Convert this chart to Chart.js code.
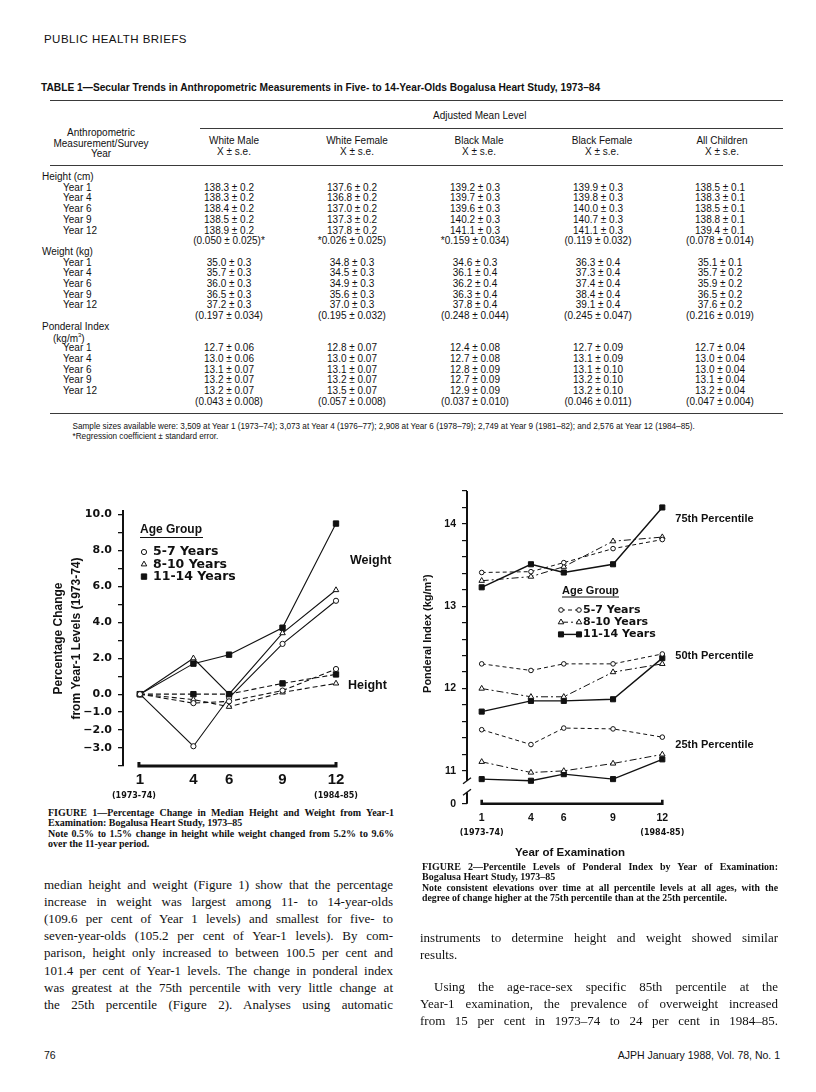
<!DOCTYPE html>
<html>
<head>
<meta charset="utf-8">
<script src="https://cdn.jsdelivr.net/npm/chart.js@4.4.1/dist/chart.umd.min.js"></script>
<style>
  html, body { margin: 0; padding: 0; background: #fff; }
  #page { position: relative; width: 816px; height: 1092px; overflow: hidden; color: #111; }
  .t { position: absolute; white-space: nowrap; }
  .rule { position: absolute; height: 0; }
  canvas { position: absolute; }
</style>
</head>
<body>
<div id="page">
  <canvas id="fig1" width="380" height="310" style="left:40px;top:495px;width:380px;height:310px"></canvas>
  <canvas id="fig2" width="380" height="385" style="left:415px;top:478px;width:380px;height:385px"></canvas>
</div>
<script>
// ---- figure 1: percentage change from year-1 levels ----
const years = [1, 4, 6, 9, 12];
const weight5to7 = [0, -2.9, -0.2, 2.8, 5.2];
const weight8to10 = [0, 2.0, 0.0, 3.4, 5.8];
const weight11to14 = [0, 1.7, 2.2, 3.7, 9.5];
const height5to7 = [0, -0.5, -0.4, 0.2, 1.4];
const height8to10 = [0, -0.3, -0.7, 0.1, 0.6];
const height11to14 = [0, 0.0, 0.0, 0.6, 1.1];
const fig1YTicks = [-4, -3, -2, -1, 0, 1, 2, 3, 4, 5, 6, 7, 8, 9, 10];
const fig1YLabels = ['', '\u22123.0', '\u22122.0', '\u22121.0', '0.0', '', '2.0', '', '4.0', '', '6.0', '', '8.0', '', '10.0'];

// ---- figure 2: ponderal index percentiles ----
const pi75_5to7 = [13.41, 13.42, 13.53, 13.70, 13.81];
const pi75_8to10 = [13.31, 13.36, 13.48, 13.79, 13.84];
const pi75_11to14 = [13.23, 13.51, 13.41, 13.51, 14.20];
const pi50_5to7 = [12.30, 12.22, 12.30, 12.30, 12.42];
const pi50_8to10 = [12.00, 11.90, 11.90, 12.20, 12.30];
const pi50_11to14 = [11.72, 11.85, 11.85, 11.87, 12.37];
const pi25_5to7 = [11.50, 11.32, 11.52, 11.51, 11.41];
const pi25_8to10 = [11.11, 10.98, 11.00, 11.09, 11.20];
const pi25_11to14 = [10.90, 10.88, 10.96, 10.90, 11.14];
const fig2YTicks = [10.6, 11.0, 11.2, 11.4, 11.6, 11.8, 12.0, 12.2, 12.4, 12.6, 12.8, 13.0, 13.2, 13.4, 13.6, 13.8, 14.0, 14.2, 14.4];
const fig2YLabels = ['0', '11', '', '', '', '', '12', '', '', '', '', '13', '', '', '', '', '14', '', ''];

const ageGroups = ['5-7 Years', '8-10 Years', '11-14 Years'];
const yearSpans = ['(1973-74)', '(1984-85)'];

// ---- table 1 ----
const tableGroups = ['White Male', 'White Female', 'Black Male', 'Black Female', 'All Children'];
const surveyYears = ['Year 1', 'Year 4', 'Year 6', 'Year 9', 'Year 12'];
const heightCm = [
  ['138.3 ± 0.2', '137.6 ± 0.2', '139.2 ± 0.3', '139.9 ± 0.3', '138.5 ± 0.1'],
  ['138.3 ± 0.2', '136.8 ± 0.2', '139.7 ± 0.3', '139.8 ± 0.3', '138.3 ± 0.1'],
  ['138.4 ± 0.2', '137.0 ± 0.2', '139.6 ± 0.3', '140.0 ± 0.3', '138.5 ± 0.1'],
  ['138.5 ± 0.2', '137.3 ± 0.2', '140.2 ± 0.3', '140.7 ± 0.3', '138.8 ± 0.1'],
  ['138.9 ± 0.2', '137.8 ± 0.2', '141.1 ± 0.3', '141.1 ± 0.3', '139.4 ± 0.1']
];
const heightCoef = ['(0.050 ± 0.025)*', '*0.026 ± 0.025)', '*0.159 ± 0.034)', '(0.119 ± 0.032)', '(0.078 ± 0.014)'];
const weightKg = [
  ['35.0 ± 0.3', '34.8 ± 0.3', '34.6 ± 0.3', '36.3 ± 0.4', '35.1 ± 0.1'],
  ['35.7 ± 0.3', '34.5 ± 0.3', '36.1 ± 0.4', '37.3 ± 0.4', '35.7 ± 0.2'],
  ['36.0 ± 0.3', '34.9 ± 0.3', '36.2 ± 0.4', '37.4 ± 0.4', '35.9 ± 0.2'],
  ['36.5 ± 0.3', '35.6 ± 0.3', '36.3 ± 0.4', '38.4 ± 0.4', '36.5 ± 0.2'],
  ['37.2 ± 0.3', '37.0 ± 0.3', '37.8 ± 0.4', '39.1 ± 0.4', '37.6 ± 0.2']
];
const weightCoef = ['(0.197 ± 0.034)', '(0.195 ± 0.032)', '(0.248 ± 0.044)', '(0.245 ± 0.047)', '(0.216 ± 0.019)'];
const ponderal = [
  ['12.7 ± 0.06', '12.8 ± 0.07', '12.4 ± 0.08', '12.7 ± 0.09', '12.7 ± 0.04'],
  ['13.0 ± 0.06', '13.0 ± 0.07', '12.7 ± 0.08', '13.1 ± 0.09', '13.0 ± 0.04'],
  ['13.1 ± 0.07', '13.1 ± 0.07', '12.8 ± 0.09', '13.1 ± 0.10', '13.0 ± 0.04'],
  ['13.2 ± 0.07', '13.2 ± 0.07', '12.7 ± 0.09', '13.2 ± 0.10', '13.1 ± 0.04'],
  ['13.2 ± 0.07', '13.5 ± 0.07', '12.9 ± 0.09', '13.2 ± 0.10', '13.2 ± 0.04']
];
const ponderalCoef = ['(0.043 ± 0.008)', '(0.057 ± 0.008)', '(0.037 ± 0.010)', '(0.046 ± 0.011)', '(0.047 ± 0.004)'];

const INK = '#111';
const page = document.getElementById('page');

// place a line of text, y is the vertical centre
function put(html, x, y, font, align, extra) {
  const d = document.createElement('div');
  d.className = 't';
  d.innerHTML = html;
  d.style.font = font;
  d.style.lineHeight = '1';
  d.style.left = x + 'px';
  d.style.top = y + 'px';
  const tx = align === 'c' ? '-50%' : align === 'r' ? '-100%' : '0';
  d.style.transform = 'translate(' + tx + ',-50%)';
  if (extra) d.style.cssText += extra;
  page.appendChild(d);
  return d;
}
function jline(html, x, y, w, font) {
  return put(html, x, y, font, 'l', 'width:' + w + 'px;white-space:normal;text-align:justify;text-align-last:justify;');
}
function rule(x1, x2, y, w) {
  const d = document.createElement('div');
  d.className = 'rule';
  d.style.cssText = 'left:' + x1 + 'px;width:' + (x2 - x1) + 'px;top:' + y + 'px;border-top:' + w + 'px solid #3a3a3a;';
  page.appendChild(d);
}

// ---- page header and table ----
const sans = '"Liberation Sans", Arial, sans-serif';
const serif = '"Liberation Serif", "Times New Roman", serif';
put('PUBLIC HEALTH BRIEFS', 44, 40, '11.5px ' + sans, 'l', 'letter-spacing:0.45px;');
put('TABLE 1—Secular Trends in Anthropometric Measurements in Five- to 14-Year-Olds Bogalusa Heart Study, 1973–84',
    41, 87.5, 'bold 10.2px ' + sans, 'l');
rule(50, 783, 100, 1.5);
put('Adjusted Mean Level', 433, 115.5, '10px ' + sans, 'l');
rule(200, 783, 127.5, 1);
put('Anthropometric', 101, 132.5, '10px ' + sans, 'c');
put('Measurement/Survey', 101, 143.5, '10px ' + sans, 'c');
put('Year', 101, 154, '10px ' + sans, 'c');
const headCentres = [234, 357, 479, 602, 722];
const cellCentres = [229, 352, 475, 598, 720];
tableGroups.forEach((g, i) => {
  put(g, headCentres[i], 140.5, '10px ' + sans, 'c');
  put('X ± s.e.', headCentres[i], 151.5, '10px ' + sans, 'c');
});
rule(50, 783, 165, 1.5);

const tableRows = [];
tableRows.push({ label: 'Height (cm)', x: 42 });
heightCm.forEach((r, i) => tableRows.push({ label: surveyYears[i], x: 63, cells: r }));
tableRows.push({ label: '', cells: heightCoef });
tableRows.push({ label: 'Weight (kg)', x: 42 });
weightKg.forEach((r, i) => tableRows.push({ label: surveyYears[i], x: 63, cells: r }));
tableRows.push({ label: '', cells: weightCoef });
tableRows.push({ label: 'Ponderal Index', x: 42 });
tableRows.push({ label: '(kg/m<sup style="font-size:6px">3</sup>)', x: 53 });
ponderal.forEach((r, i) => tableRows.push({ label: surveyYears[i], x: 63, cells: r }));
tableRows.push({ label: '', cells: ponderalCoef });
tableRows.forEach((row, n) => {
  const y = 177 + n * 10.7;
  if (row.label) put(row.label, row.x, y, '10px ' + sans, 'l');
  if (row.cells) row.cells.forEach((c, i) => put(c, cellCentres[i], y, '10px ' + sans, 'c'));
});
rule(50, 783, 413, 1.5);
put('Sample sizes available were: 3,509 at Year 1 (1973–74); 3,073 at Year 4 (1976–77); 2,908 at Year 6 (1978–79); 2,749 at Year 9 (1981–82); and 2,576 at Year 12 (1984–85).',
    72.5, 426.5, '8.2px ' + sans, 'l');
put('*Regression coefficient ± standard error.', 72.5, 436.5, '8.2px ' + sans, 'l');

// ---- captions and body text ----
const capFont = 'bold 10px ' + serif;
jline('FIGURE 1—Percentage Change in Median Height and Weight from Year-1', 48, 813, 346, capFont);
put('Examination: Bogalusa Heart Study, 1973–85', 48, 823, capFont, 'l');
jline('Note 0.5% to 1.5% change in height while weight changed from 5.2% to 9.6%', 48, 833.5, 346, capFont);
put('over the 11-year period.', 48, 843.5, capFont, 'l');

jline('FIGURE 2—Percentile Levels of Ponderal Index by Year of Examination:', 422, 867, 356, capFont);
put('Bogalusa Heart Study, 1973–85', 422, 877, capFont, 'l');
jline('Note consistent elevations over time at all percentile levels at all ages, with the', 422, 887.5, 356, 'bold 9.8px ' + serif);
put('degree of change higher at the 75th percentile than at the 25th percentile.', 422, 897.5, 'bold 9.8px ' + serif, 'l');

const bodyFont = '13px ' + serif;
const leftText = [
  'median height and weight (Figure 1) show that the percentage',
  'increase in weight was largest among 11- to 14-year-olds',
  '(109.6 per cent of Year 1 levels) and smallest for five- to',
  'seven-year-olds (105.2 per cent of Year-1 levels). By com-',
  'parison, height only increased to between 100.5 per cent and',
  '101.4 per cent of Year-1 levels. The change in ponderal index',
  'was greatest at the 75th percentile with very little change at',
  'the 25th percentile (Figure 2). Analyses using automatic'
];
leftText.forEach((s, i) => jline(s, 44, 884 + i * 17.1, 349, bodyFont));
jline('instruments to determine height and weight showed similar', 420, 937, 358, bodyFont);
put('results.', 420, 954, bodyFont, 'l');
jline('Using the age-race-sex specific 85th percentile at the', 434, 986, 344, bodyFont);
jline('Year-1 examination, the prevalence of overweight increased', 420, 1003, 358, bodyFont);
jline('from 15 per cent in 1973–74 to 24 per cent in 1984–85.', 420, 1020, 358, bodyFont);

put('76', 44, 1055, '10.5px ' + sans, 'l');
put('AJPH January 1988, Vol. 78, No. 1', 780, 1055, '10.5px ' + sans, 'r');

// ---- chart helpers ----
function pts(vals) {
  return years.map((x, i) => ({ x: x, y: vals[i] }));
}
function series(label, vals, sym, size, dash, width) {
  const style = {
    c: { pointStyle: 'circle', pointRadius: size.c, pointBackgroundColor: '#fff' },
    t: { pointStyle: 'triangle', pointRadius: size.t, pointBackgroundColor: '#fff' },
    s: { pointStyle: 'rect', pointRadius: size.s, pointBackgroundColor: INK }
  }[sym];
  return Object.assign({
    label: label, data: pts(vals), borderColor: INK, borderWidth: width, borderDash: dash,
    pointBorderColor: INK, pointBorderWidth: 1, pointHoverRadius: style.pointRadius,
    tension: 0, fill: false, clip: false
  }, style);
}
function marker(ctx, sym, x, y, r) {
  ctx.save();
  ctx.setLineDash([]);
  ctx.lineWidth = 1;
  ctx.strokeStyle = INK;
  ctx.beginPath();
  if (sym === 'c') ctx.arc(x, y, r, 0, Math.PI * 2);
  else if (sym === 't') {
    ctx.moveTo(x, y - r);
    ctx.lineTo(x + r * 0.866, y + r * 0.5);
    ctx.lineTo(x - r * 0.866, y + r * 0.5);
    ctx.closePath();
  } else ctx.rect(x - r * 0.707, y - r * 0.707, r * 1.414, r * 1.414);
  ctx.fillStyle = sym === 's' ? INK : '#fff';
  ctx.fill();
  ctx.stroke();
  ctx.restore();
}
function text(ctx, s, x, y, font, align) {
  ctx.font = font;
  ctx.textAlign = align || 'left';
  ctx.textBaseline = 'middle';
  ctx.fillStyle = INK;
  ctx.fillText(s, x, y);
}
const symbols = ['c', 't', 's'];

// ---- figure 1 ----
const size1 = { c: 2.6, t: 3.2, s: 3.8 };
const fig1Deco = {
  id: 'fig1Deco',
  afterDraw(chart) {
    const { ctx, chartArea: a } = chart;
    const x = chart.scales.x, y = chart.scales.y;
    ctx.save();
    ctx.strokeStyle = INK;
    ctx.lineWidth = 3;
    ctx.beginPath();
    ctx.moveTo(x.getPixelForValue(years[0]) - 1, a.bottom - 4);
    ctx.lineTo(x.getPixelForValue(years[0]) - 1, a.bottom);
    ctx.lineTo(x.getPixelForValue(years[4]), a.bottom);
    ctx.lineTo(x.getPixelForValue(years[4]), a.bottom - 4);
    ctx.stroke();
    const yr = 'bold 8px "DejaVu Sans"';
    text(ctx, yearSpans[0], x.getPixelForValue(years[0]) - 6, a.bottom + 30, yr, 'center');
    text(ctx, yearSpans[1], x.getPixelForValue(years[4]), a.bottom + 30, yr, 'center');
    // legend
    text(ctx, 'Age Group', 100, 35, 'bold 12px "Liberation Sans"');
    ctx.lineWidth = 1;
    ctx.beginPath();
    ctx.moveTo(100, 42.5);
    ctx.lineTo(163, 42.5);
    ctx.stroke();
    ageGroups.forEach((g, i) => {
      const ly = 57 + i * 12.3;
      marker(ctx, symbols[i], 104, ly, size1[symbols[i]]);
      text(ctx, g, 113, ly, 'bold 12.5px "DejaVu Sans"');
    });
    text(ctx, 'Weight', x.getPixelForValue(12) + 14, y.getPixelForValue(7.45), 'bold 12.5px "Liberation Sans"');
    text(ctx, 'Height', x.getPixelForValue(12) + 12, y.getPixelForValue(0.5), 'bold 12.5px "Liberation Sans"');
    ctx.restore();
  }
};
new Chart(document.getElementById('fig1'), {
  type: 'line',
  data: {
    datasets: [
      series('Height 5-7', height5to7, 'c', size1, [5, 3], 1.1),
      series('Height 8-10', height8to10, 't', size1, [5, 3], 1.1),
      series('Height 11-14', height11to14, 's', size1, [5, 3], 1.1),
      series('Weight 5-7', weight5to7, 'c', size1, [], 1.1),
      series('Weight 8-10', weight8to10, 't', size1, [], 1.1),
      series('Weight 11-14', weight11to14, 's', size1, [], 1.1)
    ]
  },
  options: {
    responsive: false,
    animation: false,
    devicePixelRatio: 1,
    layout: { padding: { top: 16, right: 84, bottom: 11, left: 0 } },
    plugins: { legend: { display: false }, tooltip: { enabled: false } },
    scales: {
      x: {
        type: 'linear', min: 0.05, max: 12,
        afterBuildTicks: s => { s.ticks = years.map(v => ({ value: v })); },
        afterFit: s => { s.height = 28; },
        grid: { display: false, drawTicks: false },
        border: { display: false },
        ticks: {
          autoSkip: false, maxRotation: 0, padding: 5, color: INK,
          font: { family: 'Liberation Sans', size: 15, weight: 'bold' },
          callback: v => String(v)
        }
      },
      y: {
        type: 'linear', min: -4, max: 10.2,
        afterBuildTicks: s => { s.ticks = fig1YTicks.map(v => ({ value: v })); },
        afterFit: s => { s.width = 83; },
        grid: { drawOnChartArea: false, drawTicks: true, tickLength: 5, color: INK, lineWidth: 1.3 },
        border: { display: true, color: INK, width: 2 },
        ticks: {
          autoSkip: false, padding: 6, color: INK,
          font: { family: 'DejaVu Sans', size: 11, weight: 'bold' },
          callback: v => fig1YLabels[fig1YTicks.indexOf(v)]
        },
        title: {
          display: true,
          text: ['Percentage Change', 'from Year-1 Levels (1973-74)'],
          color: INK,
          font: { family: 'Liberation Sans', size: 12, weight: 'bold', lineHeight: 1.5 },
          padding: { top: 10, bottom: 0 }
        }
      }
    }
  },
  plugins: [fig1Deco]
});

// ---- figure 2 ----
const size2 = { c: 2.3, t: 3.2, s: 3.6 };
const dash2 = [[4, 3], [7, 3, 2, 3], []];
const width2 = [1, 1, 1.4];
const fig2Deco = {
  id: 'fig2Deco',
  afterDraw(chart) {
    const { ctx, chartArea: a } = chart;
    const x = chart.scales.x, y = chart.scales.y;
    ctx.save();
    ctx.strokeStyle = INK;
    // broken y axis
    ctx.lineWidth = 2;
    ctx.beginPath();
    ctx.moveTo(a.left, a.top);
    ctx.lineTo(a.left, y.getPixelForValue(10.88));
    ctx.moveTo(a.left, y.getPixelForValue(10.74));
    ctx.lineTo(a.left, a.bottom);
    ctx.stroke();
    ctx.lineWidth = 1.3;
    [10.88, 10.74].forEach(v => {
      const py = y.getPixelForValue(v);
      ctx.beginPath();
      ctx.moveTo(a.left - 4, py + 3);
      ctx.lineTo(a.left + 4, py - 3);
      ctx.stroke();
    });
    // x axis
    ctx.lineWidth = 2.6;
    ctx.beginPath();
    ctx.moveTo(x.getPixelForValue(years[0]), a.bottom - 4);
    ctx.lineTo(x.getPixelForValue(years[0]), a.bottom);
    ctx.lineTo(x.getPixelForValue(years[4]), a.bottom);
    ctx.lineTo(x.getPixelForValue(years[4]), a.bottom - 4);
    ctx.stroke();
    const yr = 'bold 8px "DejaVu Sans"';
    text(ctx, yearSpans[0], x.getPixelForValue(years[0]), a.bottom + 29.5, yr, 'center');
    text(ctx, yearSpans[1], x.getPixelForValue(years[4]), a.bottom + 29.5, yr, 'center');
    text(ctx, 'Year of Examination', 155, 375, 'bold 11.5px "Liberation Sans"', 'center');
    // percentile labels
    const pl = 'bold 11px "Liberation Sans"';
    text(ctx, '75th Percentile', x.getPixelForValue(12) + 13, y.getPixelForValue(14.06), pl);
    text(ctx, '50th Percentile', x.getPixelForValue(12) + 13, y.getPixelForValue(12.40), pl);
    text(ctx, '25th Percentile', x.getPixelForValue(12) + 13, y.getPixelForValue(11.31), pl);
    // legend
    text(ctx, 'Age Group', 147, 113, 'bold 11px "Liberation Sans"');
    ctx.lineWidth = 1;
    ctx.beginPath();
    ctx.moveTo(147, 119);
    ctx.lineTo(204, 119);
    ctx.stroke();
    ageGroups.forEach((g, i) => {
      const ly = 132 + i * 12.2;
      ctx.save();
      ctx.lineWidth = width2[i];
      ctx.setLineDash(dash2[i]);
      ctx.beginPath();
      ctx.moveTo(146, ly);
      ctx.lineTo(164, ly);
      ctx.stroke();
      ctx.restore();
      marker(ctx, symbols[i], 146, ly, size2[symbols[i]]);
      marker(ctx, symbols[i], 164, ly, size2[symbols[i]]);
      text(ctx, g, 168, ly, 'bold 11px "DejaVu Sans"');
    });
    ctx.restore();
  }
};
new Chart(document.getElementById('fig2'), {
  type: 'line',
  data: {
    datasets: [
      series('75th 5-7', pi75_5to7, 'c', size2, dash2[0], width2[0]),
      series('75th 8-10', pi75_8to10, 't', size2, dash2[1], width2[1]),
      series('75th 11-14', pi75_11to14, 's', size2, dash2[2], width2[2]),
      series('50th 5-7', pi50_5to7, 'c', size2, dash2[0], width2[0]),
      series('50th 8-10', pi50_8to10, 't', size2, dash2[1], width2[1]),
      series('50th 11-14', pi50_11to14, 's', size2, dash2[2], width2[2]),
      series('25th 5-7', pi25_5to7, 'c', size2, dash2[0], width2[0]),
      series('25th 8-10', pi25_8to10, 't', size2, dash2[1], width2[1]),
      series('25th 11-14', pi25_11to14, 's', size2, dash2[2], width2[2])
    ]
  },
  options: {
    responsive: false,
    animation: false,
    devicePixelRatio: 1,
    layout: { padding: { top: 13, right: 132.7, bottom: 35.2, left: 0 } },
    plugins: { legend: { display: false }, tooltip: { enabled: false } },
    scales: {
      x: {
        type: 'linear', min: 0.105, max: 12,
        afterBuildTicks: s => { s.ticks = years.map(v => ({ value: v })); },
        afterFit: s => { s.height = 24; },
        grid: { display: false, drawTicks: false },
        border: { display: false },
        ticks: {
          autoSkip: false, maxRotation: 0, padding: 8, color: INK,
          font: { family: 'Liberation Sans', size: 10.5, weight: 'bold' },
          callback: v => String(v)
        }
      },
      y: {
        type: 'linear', min: 10.6, max: 14.4,
        afterBuildTicks: s => { s.ticks = fig2YTicks.map(v => ({ value: v })); },
        afterFit: s => { s.width = 52; },
        grid: { drawOnChartArea: false, drawTicks: true, tickLength: 5, color: INK, lineWidth: 1.2 },
        border: { display: false },
        ticks: {
          autoSkip: false, padding: 6, color: INK,
          font: { family: 'Liberation Sans', size: 10.5, weight: 'bold' },
          callback: v => fig2YLabels[fig2YTicks.indexOf(v)]
        },
        title: {
          display: true,
          text: '\u00a0\u00a0\u00a0\u00a0\u00a0\u00a0\u00a0\u00a0\u00a0Ponderal Index (kg/m\u00b3)',
          color: INK,
          font: { family: 'Liberation Sans', size: 11, weight: 'bold' },
          padding: { top: 6.4, bottom: 0 }
        }
      }
    }
  },
  plugins: [fig2Deco]
});
</script>
</body>
</html>
